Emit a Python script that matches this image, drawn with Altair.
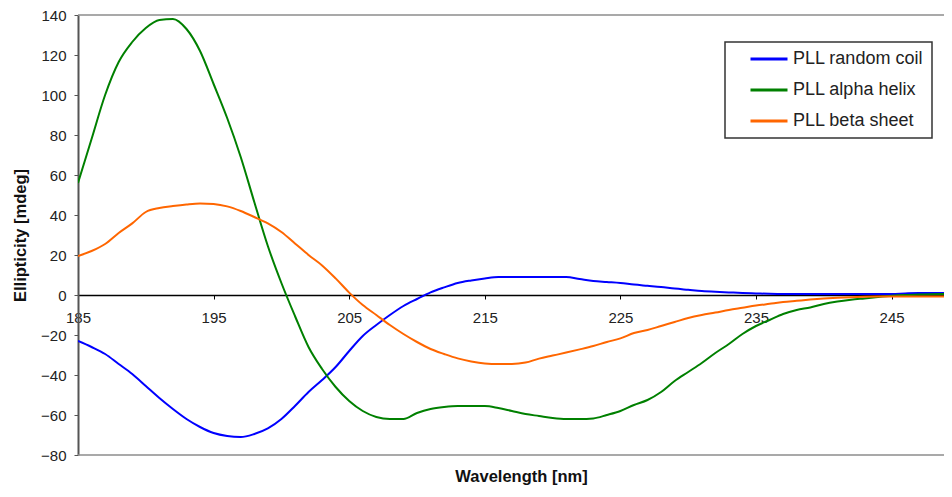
import altair as alt
import pandas as pd

# ---- data ----
wavelength = list(range(185, 251))

random_coil = [
    -23, -26, -29.5, -34.5, -39.5, -45.5, -51.5, -57, -62, -66,        # 185-194
    -69, -70.5, -71, -69.5, -66.7, -62, -55.5, -48.5, -42.5, -36,      # 195-204
    -28, -20.5, -15, -10, -5.5, -2, 1.3, 3.8, 6, 7.3,                  # 205-214
    8.3, 9, 9, 9, 9, 9, 9, 8, 7, 6.5,                                  # 215-224
    6, 5.2, 4.6, 4, 3.2, 2.6, 2, 1.6, 1.3, 1,                          # 225-234
    0.8, 0.6, 0.5, 0.5, 0.5, 0.5, 0.5, 0.5, 0.5, 0.5,                  # 235-244
    0.5, 0.8, 1, 1, 1, 1,                                              # 245-250
]

alpha_helix = [
    56, 78, 100, 116.5, 126.5, 133.5, 137.5, 138, 133, 122,            # 185-194
    105.5, 88.5, 69, 46.5, 24.5, 6, -10.5, -26, -37, -46,              # 195-204
    -53, -58, -61, -62, -62, -59, -57, -56, -55.5, -55.5,              # 205-214
    -55.5, -56.5, -58, -59.5, -60.5, -61.5, -62, -62, -61.7, -60,      # 215-224
    -58, -55, -52.5, -48.5, -43, -38.5, -34, -29, -24.5, -19.5,        # 225-234
    -15.5, -12.5, -9.5, -7.5, -6.2, -4.5, -3.3, -2.4, -1.7, -1,        # 235-244
    -0.4, 0, 0.2, 0.4, 0.5, 0.5,                                       # 245-250
]

beta_sheet = [
    19.5, 22, 25.5, 31, 35.8, 41.5, 43.5, 44.5, 45.3, 45.8,            # 185-194
    45.5, 44.3, 42, 39, 35.8, 31.5, 25.8, 20, 14.8, 8.3,               # 195-204
    1.2, -5, -10, -15, -19.5, -23.5, -27, -29.5, -31.7, -33.2,         # 205-214
    -34.2, -34.5, -34.5, -33.8, -31.8, -30.3, -28.8, -27.2, -25.5, -23.5,  # 215-224
    -21.7, -19, -17.5, -15.5, -13.5, -11.5, -10, -8.8, -7.5, -6.4,     # 225-234
    -5.3, -4.4, -3.5, -2.9, -2.3, -1.8, -1.4, -1.1, -0.9, -0.8,        # 235-244
    -0.8, -0.8, -0.8, -0.8, -0.8, -0.8,                                # 245-250
]

series_names = ["PLL random coil", "PLL alpha helix", "PLL beta sheet"]
series_colors = ["#0000FF", "#008000", "#FF6600"]
x_ticks = [185, 195, 205, 215, 225, 235, 245]
y_ticks = [-80, -60, -40, -20, 0, 20, 40, 60, 80, 100, 120, 140]
frame_edges = [-80, 140]

rows = []
for name, vals in zip(series_names, [random_coil, alpha_helix, beta_sheet]):
    for w, v in zip(wavelength, vals):
        rows.append({"wavelength": w, "value": v, "series": name})
df = pd.DataFrame(rows)
edges_df = pd.DataFrame({"edge": frame_edges})

FONT = "Liberation Sans"
PLOT_W = 866
X_MAX = 185 + PLOT_W / 13.56
Y_SCALE = alt.Scale(domain=[-80, 140], nice=False, zero=False)

lines = alt.Chart(df).mark_line(strokeWidth=2, clip=True, interpolate="monotone").encode(
    x=alt.X(
        "wavelength:Q",
        scale=alt.Scale(domain=[185, X_MAX], nice=False, zero=False),
        axis=alt.Axis(
            values=x_ticks, title="Wavelength [nm]", offset=-160, grid=False,
            domainColor="#000000", domainWidth=1.5, tickColor="#000000", tickSize=4,
            labelFont=FONT, labelFontSize=15, labelColor="#222222", labelPadding=11,
            labelFlush=False, labelOverlap=False,
            titleFont=FONT, titleFontSize=16.5, titleFontWeight="bold", titleColor="#111111",
            titleX=443, titleY=181, titleAlign="center", titleBaseline="middle",
        ),
    ),
    y=alt.Y(
        "value:Q",
        scale=Y_SCALE,
        axis=alt.Axis(
            values=y_ticks, title="Ellipticity [mdeg]", grid=False,
            domainColor="#555555", domainWidth=2, tickColor="#555555", tickSize=4,
            labelFont=FONT, labelFontSize=15, labelColor="#222222", labelPadding=8,
            labelFlush=False, labelOverlap=False,
            titleFont=FONT, titleFontSize=16.5, titleFontWeight="bold", titleColor="#111111",
            titleX=-58, titleY=220, titleAngle=270, titleAlign="center", titleBaseline="middle",
        ),
    ),
    color=alt.Color(
        "series:N",
        sort=series_names,
        scale=alt.Scale(domain=series_names, range=series_colors),
        legend=alt.Legend(
            title=None, orient="none", legendX=647, legendY=27,
            symbolType="stroke", symbolSize=1369, symbolStrokeWidth=3,
            labelFont=FONT, labelFontSize=18, labelColor="#222222", labelOffset=4,
            clipHeight=18, rowPadding=13, padding=8, symbolOffset=16,
            strokeColor="#333333", fillColor="#ffffff",
        ),
    ),
)

frame = alt.Chart(edges_df).mark_rule(color="#8c8c8c", strokeWidth=1.5).encode(
    y=alt.Y("edge:Q", scale=Y_SCALE, axis=None)
)

chart = (
    alt.layer(lines, frame)
    .resolve_axis(y="independent")
    .properties(
        width=PLOT_W,
        height=440,
        padding={"left": 70, "top": 7, "right": 0, "bottom": 33},
        autosize=alt.AutoSizeParams(type="none"),
        background="#ffffff",
    )
    .configure_view(strokeWidth=0)
    .configure_legend(strokeWidth=1.5)
)

chart.save("out.html", embed_options={"renderer": "svg", "actions": False})
